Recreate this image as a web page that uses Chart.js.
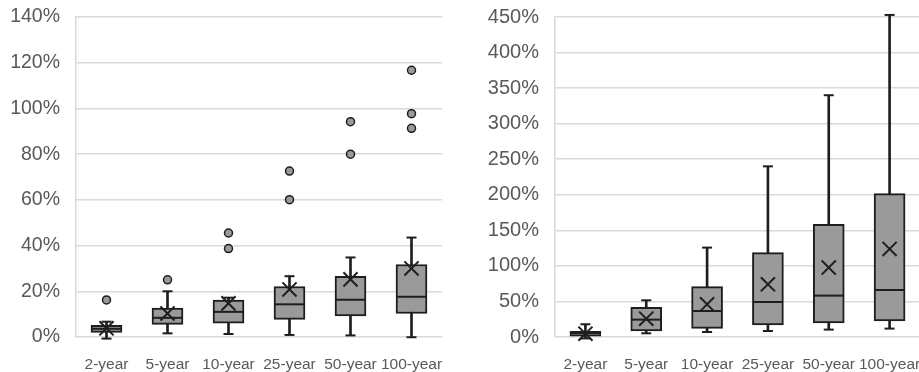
<!DOCTYPE html>
<html>
<head>
<meta charset="utf-8">
<script src="https://cdn.jsdelivr.net/npm/chart.js@4.4.0/dist/chart.umd.min.js"></script>
<style>
    html, body { margin: 0; padding: 0; background: #fff; overflow: hidden; }
    #wrap { position: relative; width: 919px; height: 372px; overflow: hidden; }
    .panel { position: absolute; top: 0; height: 372px; }
    #leftPanel { left: 0; width: 450px; }
    #rightPanel { left: 460px; width: 460px; }
</style>
</head>
<body>
<div id="wrap">
    <div class="panel" id="leftPanel"><canvas id="leftChart"></canvas></div>
    <div class="panel" id="rightPanel"><canvas id="rightChart"></canvas></div>
</div>
<script>
// ===============================
//  DATA (percent)
// ===============================
const CATEGORIES = ["2-year", "5-year", "10-year", "25-year", "50-year", "100-year"];

// left panel
const LEFT_MIN    = [-0.7, 1.6, 1.3, 0.9, 0.7, -0.1];
const LEFT_Q1     = [2.0, 5.5, 6.0, 7.7, 9.2, 10.3];
const LEFT_MEDIAN = [3.6, 8.4, 11.0, 14.3, 16.3, 17.6];
const LEFT_Q3     = [5.1, 12.7, 16.2, 22.1, 26.5, 31.7];
const LEFT_MAX    = [6.7, 20.0, 17.2, 26.6, 34.8, 43.5];
const LEFT_MEAN   = [3.8, 10.3, 14.7, 20.8, 25.2, 30.0];
const LEFT_OUTLIERS = [[16.2], [25.0], [45.5, 38.7], [72.6, 60.1], [94.2, 80.0], [116.7, 97.7, 91.3]];
const LEFT_TICKS  = [0, 20, 40, 60, 80, 100, 120, 140];

// right panel
const RIGHT_MIN    = [-2.0, 5.2, 7.0, 8.4, 10.4, 11.8];
const RIGHT_Q1     = [1.0, 8.5, 12.2, 16.9, 19.7, 22.5];
const RIGHT_MEDIAN = [5.6, 24.4, 36.6, 49.2, 58.2, 66.1];
const RIGHT_Q3     = [8.0, 41.8, 70.9, 118.7, 158.5, 201.7];
const RIGHT_MAX    = [17.9, 51.6, 125.7, 240.0, 340.0, 452.9];
const RIGHT_MEAN   = [4.7, 25.8, 46.0, 74.1, 97.6, 123.8];
const RIGHT_OUTLIERS = [[], [], [], [], [], []];
const RIGHT_TICKS  = [0, 50, 100, 150, 200, 250, 300, 350, 400, 450];

const FONT = "'Liberation Sans', Arial, Helvetica, sans-serif";
const INK = "#1e1e1e";
const BOX_FILL = "#9a9a9a";
const GRID = "#d9d9d9";
const LABEL = "#595959";

// ===============================
//  BOX PLOT DATASETS
// ===============================
function boxDatasets(min, q1, med, q3, max, mean, outliers) {
    const boxes = CATEGORIES.map((c, i) => [q1[i], q3[i]]);
    const whiskers = CATEGORIES.map((c, i) => [min[i], max[i]]);
    const outPts = [];
    outliers.forEach((list, i) => list.forEach(v => outPts.push({ x: CATEGORIES[i], y: v })));

    const pts = (data, style, r, order, extra) => Object.assign({
        type: "line", data, showLine: false, pointStyle: style, pointRadius: r,
        pointBorderColor: INK, pointBorderWidth: 2, pointBackgroundColor: INK,
        order, clip: false
    }, extra || {});

    return [
        pts(outPts, "circle", 4, 0, { pointBackgroundColor: BOX_FILL, pointBorderWidth: 1.5 }),
        pts(mean, "crossRot", 10, 1),
        pts(med, "line", 15, 2),
        {
            type: "bar", data: boxes, backgroundColor: BOX_FILL, borderColor: INK,
            borderWidth: 2, borderSkipped: false, barThickness: 31, grouped: false, order: 3
        },
        pts(max, "line", 5, 4),
        pts(min, "line", 5, 4),
        {
            type: "bar", data: whiskers, backgroundColor: INK, borderWidth: 0,
            barThickness: 2, grouped: false, order: 5, clip: false
        }
    ];
}

function makeOptions(ticks, yWidth, ySize, padRight) {
    return {
        responsive: true,
        maintainAspectRatio: false,
        animation: false,
        events: [],
        layout: { autoPadding: false, padding: { top: 17, right: padRight, bottom: 0, left: 0 } },
        plugins: { legend: { display: false }, tooltip: { enabled: false } },
        scales: {
            x: {
                grid: { display: false, drawTicks: true, tickLength: 18 },
                border: { display: false },
                ticks: { color: LABEL, font: { family: FONT, size: 15.5 }, padding: 0, maxRotation: 0, autoSkip: false },
                afterFit(s) { s.height = 35; s.paddingLeft = 0; s.paddingRight = 0; }
            },
            y: {
                min: ticks[0],
                max: ticks[ticks.length - 1],
                afterBuildTicks(s) { s.ticks = ticks.map(v => ({ value: v })); },
                grid: { color: GRID, lineWidth: 1.5, drawTicks: false },
                border: { display: true, color: GRID, width: 1.5 },
                ticks: { color: LABEL, font: { family: FONT, size: ySize }, padding: 16, callback: v => v + "%" },
                afterFit(s) { s.width = yWidth; s.paddingTop = 0; s.paddingBottom = 0; }
            }
        }
    };
}

new Chart(document.getElementById("leftChart"), {
    type: "bar",
    data: {
        labels: CATEGORIES,
        datasets: boxDatasets(LEFT_MIN, LEFT_Q1, LEFT_MEDIAN, LEFT_Q3, LEFT_MAX, LEFT_MEAN, LEFT_OUTLIERS)
    },
    options: makeOptions(LEFT_TICKS, 76, 19.5, 8)
});

new Chart(document.getElementById("rightChart"), {
    type: "bar",
    data: {
        labels: CATEGORIES,
        datasets: boxDatasets(RIGHT_MIN, RIGHT_Q1, RIGHT_MEDIAN, RIGHT_Q3, RIGHT_MAX, RIGHT_MEAN, RIGHT_OUTLIERS)
    },
    options: makeOptions(RIGHT_TICKS, 95, 20, 0)
});
</script>
</body>
</html>
